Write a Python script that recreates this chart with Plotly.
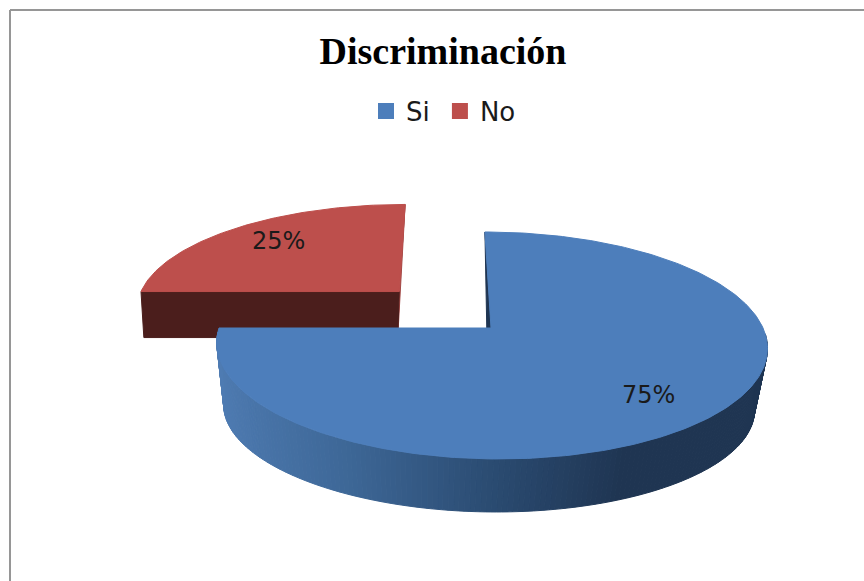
"""3D style exploded pie, drawn as filled polygons on a pixel sized plot."""
import math

import plotly.graph_objects as go

TITLE = "Discriminación"
CATEGORIES = ["Si", "No"]
SHARES = [75, 25]
COLORS = ["#4d7ebb", "#bd4f4c"]
EXPLODE = [0.0, 0.49]

# wall height at v=0, change of height with v, shrink of the lower disk
WALLS = [(65, -12, 0.037), (46, 0, 0.018)]
RED_FRONT = "#4b1e1c"
RED_EDGE = "#a34a47"
BLUE_EDGE = "#1f3552"
# side shading of the blue slice, by position across the disk
SHADE_U = [-1.0, -0.5, 0.0, 0.4, 1.0]
SHADE_RGB = [(79, 124, 179), (62, 104, 152), (42, 74, 112), (31, 53, 82), (31, 53, 82)]

W, H = 864, 581
CX, CY, RX, RY = 491, 328, 272, 110.8
PERSP = 0.154
SHEAR = 7
STEP = 1


def project(u, v, z, wall):
    w = 1 - PERSP * v
    x = CX + RX * u / (w + wall[2] * z) + SHEAR * v / w - 3 * z
    y = CY + RY * v / w + (wall[0] + wall[1] * v) * z
    return x, y


def polygon(points, color, line=None):
    xs = [p[0] for p in points] + [points[0][0]]
    ys = [p[1] for p in points] + [points[0][1]]
    return go.Scatter(
        x=xs, y=ys, mode="lines", fill="toself", fillcolor=color,
        line=dict(color=line or color, width=1),
        hoverinfo="skip", showlegend=False,
    )


def shade(u):
    for i in range(len(SHADE_U) - 1):
        if u <= SHADE_U[i + 1]:
            f = (u - SHADE_U[i]) / (SHADE_U[i + 1] - SHADE_U[i])
            a, b = SHADE_RGB[i], SHADE_RGB[i + 1]
            rgb = [round(a[k] + (b[k] - a[k]) * f) for k in range(3)]
            return "rgb({},{},{})".format(*rgb)
    return "rgb({},{},{})".format(*SHADE_RGB[-1])


fig = go.Figure()

# slice angles from the shares, clockwise from twelve o'clock
start_blue = 0
end_blue = SHARES[0] * 3.6
start_red = end_blue
end_red = start_red + SHARES[1] * 3.6

# red slice, further back, goes first
mid = math.radians((start_red + end_red) / 2)
ox, oy = math.sin(mid) * EXPLODE[1], -math.cos(mid) * EXPLODE[1]
wall = WALLS[1]
angles = [start_red + i * STEP for i in range(int((end_red - start_red) / STEP) + 1)]
arc = [(math.sin(math.radians(a)) + ox, -math.cos(math.radians(a)) + oy) for a in angles]
apex = (ox, oy)
fig.add_trace(polygon([project(*arc[-1], 0, wall), project(*apex, 1, wall), project(*apex, 0, wall)], RED_EDGE))
fig.add_trace(polygon([project(*arc[0], 0, wall), project(*apex, 0, wall), project(*apex, 1, wall), project(*arc[0], 1, wall)], RED_FRONT))
fig.add_trace(polygon([project(*apex, 0, wall)] + [project(*p, 0, wall) for p in arc], COLORS[1]))

# blue slice
wall = WALLS[0]
angles = [start_blue + i * STEP for i in range(int((end_blue - start_blue) / STEP) + 1)]
arc = [(math.sin(math.radians(a)), -math.cos(math.radians(a))) for a in angles]
fig.add_trace(polygon([project(*arc[0], 0, wall), project(0, 0, 1, wall), project(0, 0, 0, wall)], BLUE_EDGE))
for a, b in zip(arc, arc[1:]):
    if a[1] < 0.05:
        continue
    fig.add_trace(polygon(
        [project(*a, 0, wall), project(*b, 0, wall), project(*b, 1, wall), project(*a, 1, wall)],
        shade((a[0] + b[0]) / 2),
    ))
fig.add_trace(polygon([project(0, 0, 0, wall)] + [project(*p, 0, wall) for p in arc], COLORS[0]))

# legend entries, the thin space widens the gap between them
for name, color in zip(CATEGORIES, COLORS):
    fig.add_trace(go.Scatter(
        x=[None], y=[None], mode="markers", name=name + "\u2009",
        marker=dict(symbol="square", size=20, color=color),
    ))

# percentage labels
lx, ly = project(math.sin(math.radians(135)) * 0.78, -math.cos(math.radians(135)) * 0.78, 0, WALLS[0])
fig.add_annotation(x=lx, y=ly, xshift=-11, text=f"{SHARES[0]}%", showarrow=False)
lx, ly = project(ox + math.sin(mid) * 0.78, oy - math.cos(mid) * 0.78, 0, WALLS[1])
fig.add_annotation(x=lx, y=ly, xshift=8, text=f"{SHARES[1]}%", showarrow=False)

# chart border, only the left and top sides are inside the picture
fig.add_shape(type="line", x0=10, x1=10, y0=10, y1=H, line=dict(color="#969696", width=2))
fig.add_shape(type="line", x0=10, x1=W, y0=10, y1=10, line=dict(color="#969696", width=2))

fig.update_layout(
    width=W, height=H,
    margin=dict(l=0, r=0, t=0, b=0),
    paper_bgcolor="white", plot_bgcolor="white",
    font=dict(family="DejaVu Sans", size=24, color="#1a1a1a"),
    title=dict(
        text=TITLE, x=443 / W, y=1 - 51 / H, xanchor="center", yanchor="middle",
        font=dict(family="Liberation Serif", size=38, color="black", weight="bold"),
    ),
    xaxis=dict(range=[0, W], visible=False, fixedrange=True),
    yaxis=dict(range=[H, 0], visible=False, fixedrange=True),
    legend=dict(
        orientation="h", x=366 / W, y=1 - 111 / H, xanchor="left", yanchor="middle",
        font=dict(size=26, color="#1a1a1a"), bgcolor="rgba(0,0,0,0)",
    ),
)

# the page's default body margin would push the figure 8px in
fig.write_html(
    "out.html",
    config=dict(displayModeBar=False),
    post_script="document.body.style.margin='0';",
)
